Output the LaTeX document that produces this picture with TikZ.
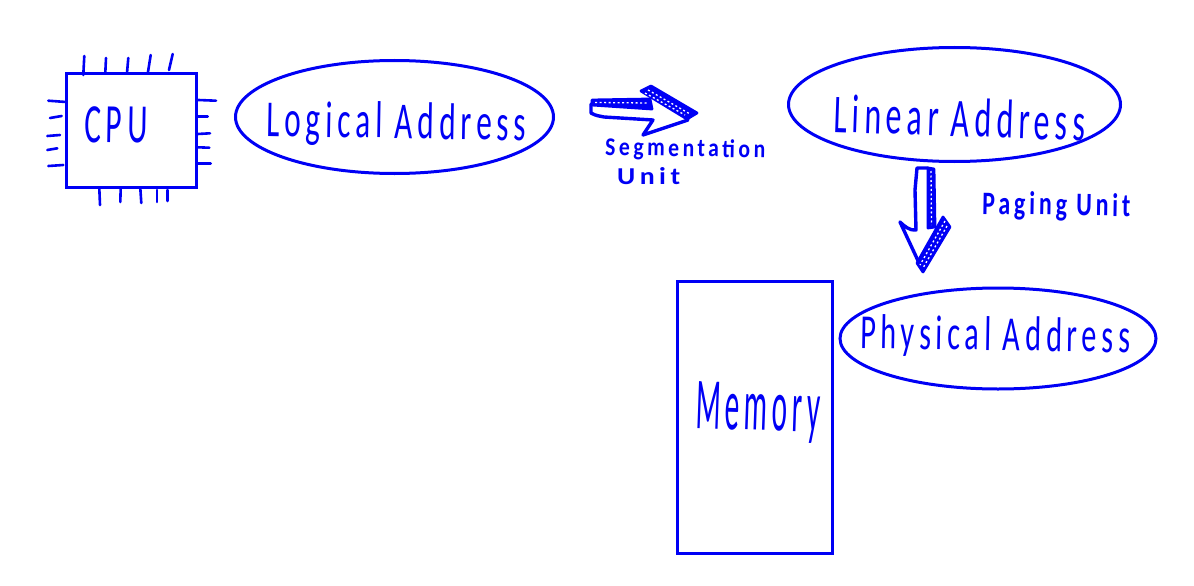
\documentclass[tikz,border=0pt]{standalone}
\usepackage{fontspec}
\setmainfont{Carlito}
\usetikzlibrary{shapes.geometric}
\definecolor{ink}{RGB}{0,0,245}
\newcommand{\hand}[3]{\resizebox{#1pt}{#2pt}{\addfontfeature{LetterSpace=16}\color{ink}#3}}
\tikzset{
  x=1pt,y=-1pt,
  bubble/.style={ellipse,draw=ink,line width=3pt,inner sep=0pt,fill=none},
  boxnode/.style={rectangle,draw=ink,line width=3pt,inner sep=0pt},
  handtext/.style={anchor=base west,inner sep=0pt},
  stub/.style={draw=ink,line width=2.6pt,line cap=round},
  sketch/.style={draw=ink,line width=3.4pt,line cap=round,line join=round},
  band/.style={draw=ink,line width=2.8pt,line join=round,fill=ink},
  hatch/.style={draw=white,line width=1.3pt,dash pattern=on 2pt off 2.5pt},
}
\begin{document}
\begin{tikzpicture}
\useasboundingbox[fill=white] (0,0) rectangle (1194,586);
% shapes
\node[boxnode,minimum width=130pt,minimum height=113pt] (cpu) at (131,130.5) {};
\node[bubble,minimum width=318pt,minimum height=113pt] (logical) at (394.5,117) {};
\node[bubble,minimum width=332pt,minimum height=114pt] (linear) at (954.5,104.5) {};
\node[bubble,minimum width=316pt,minimum height=101pt] (physical) at (998,338.5) {};
\node[boxnode,minimum width=155pt,minimum height=272pt] (memory) at (754.5,417) {};
% CPU pins
\foreach \a/\b/\c/\d in {84.3/56/83.3/75,106/58/105.3/73,128.3/58/127/73,150.7/55/148/72,172.7/54/169/70,
  99.3/188/100/205,120.7/188/120.3/202,140.3/188/141.3/203,157/190/157/202,167.3/190/167.3/201,
  48.3/100.7/66/102,50/118/61.7/116,47.3/136/60/135,47.3/150/57.3/148.3,48.3/166/63.3/165,
  198.3/100/216/100.7,197.7/116.7/207.7/116.7,197.7/134/210/133.3,197.7/147.3/209.3/147.7,197.7/163.3/210.7/163.3}
  \draw[stub] (\a,\b) -- (\c,\d);
% segmentation arrow
\draw[sketch] (591,104) -- (591,113) .. controls (596,116) and (600,116) .. (604,117) -- (653,120) -- (643,135) -- (688,120);
\draw[band] (592,100) -- (650,99) -- (652,109) -- (592,105) -- cycle;
\draw[hatch] (595,102.5) -- (648,103);
\draw[band] (641,91) -- (651,86) -- (697,113) -- (687,119) -- cycle;
\draw[hatch] (648,90) -- (690,114);
\draw[hatch] (645,93) -- (685,115);
% paging arrow
\draw[sketch] (928,168) -- (917,168) -- (915,190) -- (916,230) .. controls (910,231) and (904,226) .. (900,222) -- (920,265);
\draw[band] (928,168) -- (934,169) -- (935,227) -- (928,228) -- cycle;
\draw[hatch] (931,171) -- (931.5,225);
\draw[band] (943,217) -- (950,227) -- (923,272) -- (917,263) -- cycle;
\draw[hatch] (945,221) -- (920,265);
\draw[hatch] (947,226) -- (923,268);
% text
\node[handtext,rotate=-1] (cputext) at (84,142) {\hand{63}{36}{CPU}};
\node[handtext,rotate=-1] (logicaltext) at (266,136) {\hand{260}{36}{Logical Address}};
\node[handtext,rotate=-2] (lineartext) at (833,132) {\hand{252}{38}{Linear Address}};
\node[handtext,rotate=-1] (segtext) at (605,155) {\hand{160}{18}{\bfseries Segmentation}};
\node[handtext] (unittext1) at (617,184) {\hand{63}{17}{\bfseries Unit}};
\node[handtext,rotate=-1] (pagingtext) at (982,214) {\hand{148}{23}{\bfseries Paging Unit}};
\node[handtext,rotate=-1] (physicaltext) at (860,348) {\hand{270}{34}{Physical Address}};
\node[handtext,rotate=-2] (memorytext) at (695,428) {\hand{125}{47}{Memory}};
\end{tikzpicture}
\end{document}
